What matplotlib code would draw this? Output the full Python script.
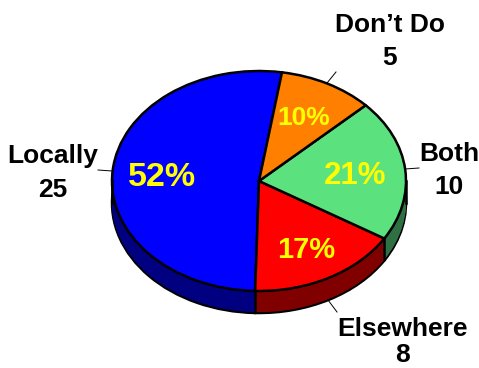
import numpy as np
import matplotlib
matplotlib.use('Agg')
import matplotlib.pyplot as plt

plt.rcParams['font.family'] = ['Liberation Sans', 'DejaVu Sans']

# slices, counter clockwise from the top
names = ["Locally", "Elsewhere", "Both", "Don\u2019t Do"]
values = [25, 8, 10, 5]
percents = ["52%", "17%", "21%", "10%"]
top_colors = ["#0000ff", "#ff0000", "#5ce17f", "#ff8000"]
side_colors = ["#000080", "#800000", "#2e7044", "#804000"]

start_angle = 81
depth = 0.2

# pixel positions in the 479x368 picture
cx, cy, rx, ry = 259, 181, 147, 110
label_x = [53, 403, 449, 390]
name_baseline = [163, 336, 161, 32]
value_baseline = [197, 362, 194, 65]
percent_pos = [(162, 177), (306, 250), (355, 176), (304, 118)]
percent_sizes = [24.5, 21, 22.5, 19]
leaders = [((98, 170), (112, 171)), ((328, 300), (337, 312)),
           ((405, 169), (419, 168)), ((336, 72), (327, 83))]

fig = plt.figure(figsize=(4.79, 3.68), dpi=100)
ax = fig.add_axes([0, 0, 1, 1])

# side of the pie: a stack of darker pies, only the lowest one has an outline
for d in np.linspace(depth, 0.01, 25):
    edge = {'edgecolor': 'black', 'linewidth': 1.8} if d == depth else {'linewidth': 0}
    ax.pie(values, colors=side_colors, startangle=start_angle, counterclock=True,
           center=(0, -d), wedgeprops=edge)

# vertical lines where slices meet, and at the outer sides
angles = np.deg2rad(start_angle + np.cumsum(values) / sum(values) * 360)
for a in angles:
    if np.sin(a) < 0:
        ax.plot([np.cos(a)] * 2, [np.sin(a), np.sin(a) - depth], color='black', lw=1.8,
                zorder=5, solid_capstyle='butt')
for x in (-1, 1):
    ax.plot([x, x], [0, -depth], color='black', lw=1.8, zorder=5)

ax.pie(values, colors=top_colors, startangle=start_angle, counterclock=True,
       wedgeprops={'edgecolor': 'black', 'linewidth': 1.8})

ax.set_aspect('auto')
ax.set_xlim(-cx / rx, (479 - cx) / rx)
ax.set_ylim(-(368 - cy) / ry, cy / ry)

# texts and leader lines go on a pixel overlay
over = fig.add_axes([0, 0, 1, 1])
over.set_xlim(0, 479)
over.set_ylim(368, 0)
over.axis('off')
over.patch.set_alpha(0)

for name, val, x, y1, y2 in zip(names, values, label_x, name_baseline, value_baseline):
    over.text(x, y1, name, ha='center', va='baseline', fontsize=19,
              fontweight='bold', color='black')
    over.text(x, y2, str(val), ha='center', va='baseline', fontsize=19,
              fontweight='bold', color='black')
for pct, pos, size in zip(percents, percent_pos, percent_sizes):
    over.text(pos[0], pos[1], pct, ha='center', va='center', fontsize=size,
              fontweight='bold', color='#ffff00')
for p0, p1 in leaders:
    over.plot([p0[0], p1[0]], [p0[1], p1[1]], color='black', lw=0.7)

fig.savefig('out.png', dpi=100)
